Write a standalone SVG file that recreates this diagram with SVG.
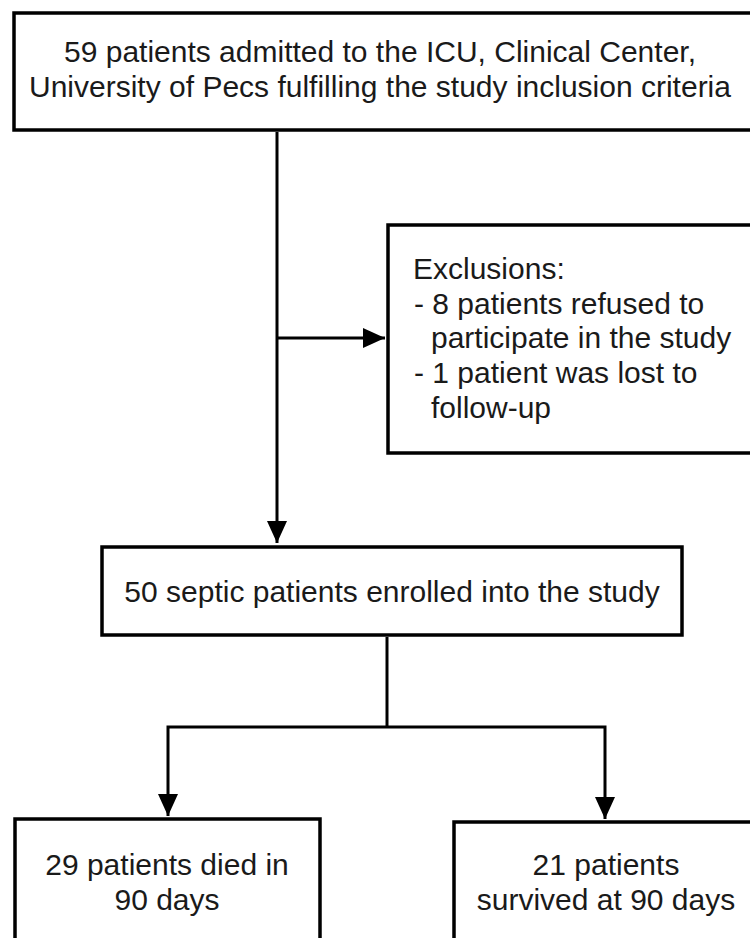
<svg xmlns="http://www.w3.org/2000/svg" width="750" height="938" viewBox="0 0 750 938">
<defs>
<style>
.box{fill:#fff;stroke:#000;stroke-width:3.5}
.t{font-family:"Liberation Sans",Arial,sans-serif;font-size:30px;fill:#1a1a1a}
.c{text-anchor:middle}
.ln{fill:none;stroke:#000;stroke-width:3}
</style>
<marker id="ah" markerUnits="userSpaceOnUse" markerWidth="22" markerHeight="20" refX="22" refY="10" orient="auto">
<path d="M0,0 L22,10 L0,20 z" fill="#000"/>
</marker>
</defs>
<rect width="750" height="938" fill="#fff"/>
<g id="connectors">
<path class="ln" d="M277,132 V543" marker-end="url(#ah)"/>
<path class="ln" d="M277,338 H385" marker-end="url(#ah)"/>
<path class="ln" d="M387,637 V727"/>
<path class="ln" d="M387,727 H168 V816" marker-end="url(#ah)"/>
<path class="ln" d="M387,727 H605 V819" marker-end="url(#ah)"/>
</g>
<g id="n1">
<rect class="box" x="14" y="13" width="740" height="117"/>
<text class="t c" x="380" y="62">59 patients admitted to the ICU, Clinical Center,</text>
<text class="t c" x="380" y="97">University of Pecs fulfilling the study inclusion criteria</text>
</g>
<g id="n2">
<rect class="box" x="388" y="225" width="370" height="228"/>
<text class="t" x="413" y="279">Exclusions:</text>
<text class="t" x="414" y="314">- 8 patients refused to</text>
<text class="t" x="431" y="348">participate in the study</text>
<text class="t" x="414" y="383">- 1 patient was lost to</text>
<text class="t" x="431" y="418">follow-up</text>
</g>
<g id="n3">
<rect class="box" x="102" y="547" width="580" height="88"/>
<text class="t c" x="392" y="602">50 septic patients enrolled into the study</text>
</g>
<g id="n4">
<rect class="box" x="15" y="819" width="305" height="140"/>
<text class="t c" x="167" y="875">29 patients died in</text>
<text class="t c" x="167" y="910">90 days</text>
</g>
<g id="n5">
<rect class="box" x="454" y="822" width="320" height="140"/>
<text class="t c" x="606" y="875">21 patients</text>
<text class="t c" x="606" y="910">survived at 90 days</text>
</g>
</svg>
